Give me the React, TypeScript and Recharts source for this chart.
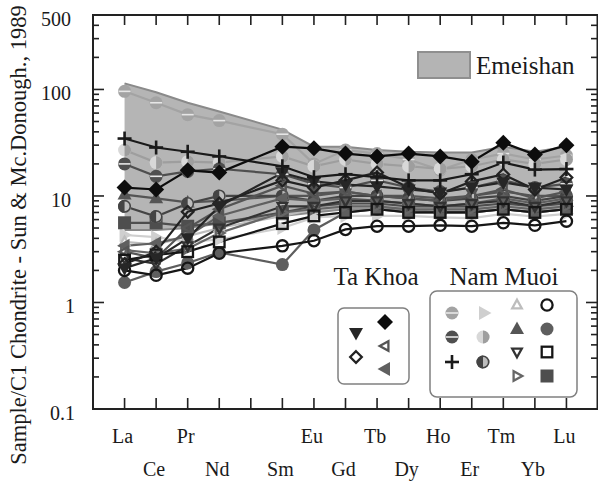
import React from "react";
import { ComposedChart, Line, Area, XAxis, YAxis, Customized } from "recharts";

const elements = ["La", "Ce", "Pr", "Nd", "Sm", "Eu", "Gd", "Tb", "Dy", "Ho", "Er", "Tm", "Yb", "Lu"];
// slot of each element on the x axis (Pm = 5 is left empty)
const slots = [1, 2, 3, 4, 6, 7, 8, 9, 10, 11, 12, 13, 14, 15];
const xTicks = [1, 2, 3, 4, 5, 6, 7, 8, 9, 10, 11, 12, 13, 14, 15];
const slotLabels = ["La", "Ce", "Pr", "Nd", "", "Sm", "Eu", "Gd", "Tb", "Dy", "Ho", "Er", "Tm", "Yb", "Lu"];
const lowerRow = ["Ce", "Nd", "Sm", "Gd", "Dy", "Er", "Yb"];
const yTicks = [0.1, 0.2, 0.3, 0.4, 0.5, 0.6, 0.7, 0.8, 0.9, 1, 2, 3, 4, 5, 6, 7, 8, 9, 10, 20, 30, 40, 50, 60, 70, 80, 90, 100, 200, 300, 400, 500];
const yMajor = [0.1, 1, 10, 100, 500];

const emeishanLow = [4.8, 4.8, 5, 5.5, 6.5, 7, 7.5, 7.5, 7.5, 7, 7, 7.5, 7, 7.5];
const emeishanHigh = [114, 94, 75, 62, 42, 29, 29, 27, 26, 25.6, 25.6, 29, 26, 29];

// Ta Khoa
const tkDownTri = [2.1, 2.6, 4.0, 8.0, 16.5, 13.7, 12.8, 12.3, 11.5, 10.8, 12, 13.4, 12, 11.5];
const tkDiamond = [12, 11.5, 17.4, 16.6, 29, 28, 25, 23.5, 25, 23.5, 21, 31.6, 24.5, 30];
const tkDiamondOpen = [2.3, 3.0, 7.1, 8.5, 14, 12, 14, 16.6, 12, 10.5, 13.7, 15.9, 11.5, 14.9];
const tkLeftOpen = [3.0, 2.6, 5.0, 7.5, 12.5, 10.5, 11, 10, 9.5, 9, 10, 11.5, 9.5, 11];
const tkLeftTri = [3.4, 3.6, 4.2, 6.5, 9.5, 9, 9.5, 9, 8.5, 8, 8.5, 9.5, 8.5, 9.5];

// Nam Muoi
const nmHalfLight = [96, 75, 58, 51, 38, 20, 27, 25, 22, 17.5, 22, 25, 22, 24];
const nmHalfDark = [20, 15.3, 17, 18, 16, 13, 12, 14, 12, 11, 12, 14, 12, 13];
const nmPlus = [34.6, 28.5, 26, 23.5, 19, 15, 16, 15, 14, 14, 16, 20.6, 17.7, 17.9];
const nmRightLight = [4.3, 4.1, 3.7, 3.9, 5.0, 6.3, 6.5, 6.5, 6.5, 6.3, 6.2, 6.8, 6.4, 6.8];
const nmSplitLight = [27, 20.6, 21, 20.6, 23.5, 19, 22, 20, 19, 18, 19, 22, 20, 22];
const nmSplitDark = [8, 6.4, 8.5, 10, 10, 9, 10, 10, 9.5, 9, 9.5, 10, 9, 10];
const nmUpOpen = [3.7, 3.5, 4.2, 5, 6.5, 7.5, 8, 8.5, 8, 8, 8, 8.5, 8, 8.5];
const nmUpTri = [10.3, 9.5, 8.7, 9, 10, 10, 11, 10, 10, 9.5, 10, 11, 10, 10];
const nmDownOpen = [2.6, 2.3, 3.4, 5, 8, 8, 9, 9, 8.5, 8, 8.5, 9, 8, 9];
const nmRightOpen = [3.1, 2.9, 3.2, 4.5, 7, 7.5, 8, 8, 7.5, 7.5, 7.5, 8, 7.5, 8];
const nmCircleOpen = [2.0, 1.8, 2.1, 2.9, 3.4, 3.8, 4.85, 5.2, 5.2, 5.3, 5.2, 5.6, 5.3, 5.8];
const nmCircle = [1.54, 1.95, 2.35, 2.95, 2.27, 4.8, 7, 7.5, 7, 7, 7, 7.5, 7, 7.5];
const nmSquareOpen = [2.5, 2.8, 3.0, 3.7, 5.5, 6.5, 7, 7.5, 7, 7, 7, 7.5, 7, 7.5];
const nmSquare = [5.6, 5.6, 5.2, 5.6, 7, 8, 8.5, 8.5, 8, 8, 8, 8.5, 8, 8.5];

const series = [
  { key: "nmRightLight", values: nmRightLight, shape: "rightFill", color: "#cfcfcf" },
  { key: "nmUpOpen", values: nmUpOpen, shape: "upOpen", color: "#bdbdbd" },
  { key: "nmHalfLight", values: nmHalfLight, shape: "halfH", color: "#a3a3a3" },
  { key: "nmSplitLight", values: nmSplitLight, shape: "halfVL", color: "#9e9e9e" },
  { key: "nmCircle", values: nmCircle, shape: "circleFill", color: "#5e5e5e" },
  { key: "nmSquare", values: nmSquare, shape: "squareFill", color: "#4e4e4e" },
  { key: "nmUpTri", values: nmUpTri, shape: "upFill", color: "#555555" },
  { key: "nmRightOpen", values: nmRightOpen, shape: "rightOpen", color: "#666666" },
  { key: "nmSplitDark", values: nmSplitDark, shape: "halfVD", color: "#444444" },
  { key: "nmHalfDark", values: nmHalfDark, shape: "halfH", color: "#4f4f4f" },
  { key: "tkLeftTri", values: tkLeftTri, shape: "leftFill", color: "#606060" },
  { key: "tkLeftOpen", values: tkLeftOpen, shape: "leftOpen", color: "#555555" },
  { key: "nmDownOpen", values: nmDownOpen, shape: "downOpen", color: "#333333" },
  { key: "nmSquareOpen", values: nmSquareOpen, shape: "squareOpen", color: "#161616" },
  { key: "nmCircleOpen", values: nmCircleOpen, shape: "circleOpen", color: "#161616" },
  { key: "tkDiamondOpen", values: tkDiamondOpen, shape: "diamondOpen", color: "#222222" },
  { key: "tkDownTri", values: tkDownTri, shape: "downFill", color: "#262626" },
  { key: "nmPlus", values: nmPlus, shape: "plus", color: "#1a1a1a" },
  { key: "tkDiamond", values: tkDiamond, shape: "diamondFill", color: "#0d0d0d" },
];

const data = elements.map((el, i) => {
  const row: any = { el, x: slots[i], emei: [emeishanLow[i], emeishanHigh[i]] };
  series.forEach((s) => (row[s.key] = s.values[i]));
  return row;
});

const W = 598;
const H = 483;
const M_TOP = 15;
const Y_W = 93;
const X_H = 74;
const PLOT_W = W - Y_W;
const PLOT_H = H - M_TOP - X_H;
const X_DOMAIN = [0, 16];
const Y_DOMAIN = [0.1, 500];

const FONT = "'Liberation Serif', 'Times New Roman', 'DejaVu Serif', serif";
const AXIS = "#222";

const Marker = ({ cx, cy, shape, color }: any) => {
  if (cx == null || cy == null) return null;
  const t = `translate(${cx},${cy})`;
  switch (shape) {
    case "circleOpen":
      return <circle cx={cx} cy={cy} r={5.6} fill="none" stroke={color} strokeWidth={2.3} />;
    case "circleFill":
      return <circle cx={cx} cy={cy} r={6.5} fill={color} />;
    case "halfH":
      return (
        <g transform={t}>
          <circle r={6.5} fill={color} />
          <rect x={-6} y={-0.8} width={12} height={1.6} fill="#e6e6e6" />
        </g>
      );
    case "halfVL":
      return (
        <g transform={t}>
          <circle r={6.5} fill="#d8d8d8" />
          <path d="M0,-6.5 A6.5,6.5 0 0 1 0,6.5 Z" fill={color} />
        </g>
      );
    case "halfVD":
      return (
        <g transform={t}>
          <circle r={6.5} fill="#bdbdbd" />
          <path d="M0,-6.5 A6.5,6.5 0 0 0 0,6.5 Z" fill={color} />
          <circle r={5.7} fill="none" stroke={color} strokeWidth={1.6} />
        </g>
      );
    case "plus":
      return (
        <g transform={t} fill={color}>
          <rect x={-7} y={-1.3} width={14} height={2.6} />
          <rect x={-1.3} y={-7} width={2.6} height={14} />
        </g>
      );
    case "diamondFill":
    case "diamondOpen": {
      const open = shape === "diamondOpen";
      return (
        <polygon
          transform={t}
          points={open ? "0,-5.8 5.8,0 0,5.8 -5.8,0" : "0,-8 8,0 0,8 -8,0"}
          fill={open ? "none" : color}
          stroke={color}
          strokeWidth={open ? 2.3 : 0}
        />
      );
    }
    case "squareFill":
      return <rect x={cx - 6.5} y={cy - 6.5} width={13} height={13} fill={color} />;
    case "squareOpen":
      return <rect x={cx - 5.3} y={cy - 5.3} width={10.6} height={10.6} fill="none" stroke={color} strokeWidth={2.3} />;
    default: {
      const open = shape.endsWith("Open");
      const dir = shape.replace("Open", "").replace("Fill", "");
      const pts: any = {
        up: "0,-7.5 7,5 -7,5",
        down: "0,7.5 7,-5 -7,-5",
        left: "-7.5,0 5,-7 5,7",
        right: "7.5,0 -5,-7 -5,7",
      };
      const small: any = {
        up: "0,-5.3 4.8,3.4 -4.8,3.4",
        down: "0,5.3 4.8,-3.4 -4.8,-3.4",
        left: "-5.3,0 3.4,-4.8 3.4,4.8",
        right: "5.3,0 -3.4,-4.8 -3.4,4.8",
      };
      return (
        <polygon
          transform={t}
          points={open ? small[dir] : pts[dir]}
          fill={open ? "none" : color}
          stroke={color}
          strokeWidth={open ? 2.3 : 0}
        />
      );
    }
  }
};

const isMajor = (v: number) => yMajor.includes(v);

const LeftTick = ({ x, y, payload }: any) => {
  const v = payload.value;
  if (!isMajor(v)) return <g />;
  return (
    <text x={x - (v >= 10 ? 22 : 18)} y={y + 4} dy="0.35em" textAnchor="end" fontSize={20} fontFamily={FONT} fill="#1a1a1a">
      {String(v)}
    </text>
  );
};

const BottomTick = ({ x, y, payload }: any) => {
  const label = slotLabels[payload.value - 1];
  if (!label) return <g />;
  const second = lowerRow.includes(label);
  return (
    <text x={x - 2} y={y + (second ? 67 : 34)} textAnchor="middle" fontSize={20} fontFamily={FONT} fill="#1a1a1a">
      {label}
    </text>
  );
};

// same mapping as the chart's axes (linear x, log y), used for the inward frame ticks
const xPix = (s: number) => Y_W + (PLOT_W * (s - X_DOMAIN[0])) / (X_DOMAIN[1] - X_DOMAIN[0]);
const yPix = (v: number) =>
  M_TOP + (PLOT_H * (Math.log10(Y_DOMAIN[1]) - Math.log10(v))) / (Math.log10(Y_DOMAIN[1]) - Math.log10(Y_DOMAIN[0]));

// frame and inward ticks, as thin filled rectangles
const Frame = () => {
  const left = Y_W;
  const right = W;
  const top = M_TOP;
  const bottom = M_TOP + PLOT_H;
  const t = 1.6;
  return (
    <g fill={AXIS}>
      <rect x={left - 1} y={top - 1} width={right - left + 1} height={2} />
      <rect x={right - 1.5} y={top - 1} width={2} height={bottom - top + 2} />
      <rect x={left - 1} y={top - 1} width={2} height={bottom - top + 2} />
      <rect x={left - 1} y={bottom - 1} width={right - left + 1} height={2} />
      {yTicks
        .filter((v) => v !== 500 && v !== 0.1)
        .map((v) => {
          const len = isMajor(v) ? 11 : 6;
          const y = yPix(v);
          return (
            <g key={`y${v}`}>
              <rect x={left} y={y - t / 2} width={len} height={t} />
              <rect x={right - len - 1} y={y - t / 2} width={len + 1} height={t} />
            </g>
          );
        })}
      {xTicks.map((s) => {
        const x = xPix(s);
        return (
          <g key={`x${s}`}>
            <rect x={x - t / 2} y={bottom - 11} width={t} height={11} />
            <rect x={x - t / 2} y={top} width={t} height={10} />
          </g>
        );
      })}
    </g>
  );
};

const tkLegend = [
  { shape: "downFill", color: "#262626", x: 356, y: 333 },
  { shape: "diamondFill", color: "#0d0d0d", x: 385, y: 322 },
  { shape: "diamondOpen", color: "#222222", x: 356, y: 357 },
  { shape: "leftOpen", color: "#555555", x: 385, y: 346 },
  { shape: "leftFill", color: "#606060", x: 385, y: 369 },
];
const nmLegend = [
  { shape: "halfH", color: "#a3a3a3", x: 452, y: 313 },
  { shape: "halfH", color: "#4f4f4f", x: 452, y: 337 },
  { shape: "plus", color: "#1a1a1a", x: 452, y: 362 },
  { shape: "rightFill", color: "#cfcfcf", x: 484, y: 313 },
  { shape: "halfVL", color: "#9e9e9e", x: 483, y: 337 },
  { shape: "halfVD", color: "#444444", x: 483, y: 362 },
  { shape: "upOpen", color: "#bdbdbd", x: 517, y: 305 },
  { shape: "upFill", color: "#555555", x: 517, y: 329 },
  { shape: "downOpen", color: "#333333", x: 517, y: 352 },
  { shape: "rightOpen", color: "#666666", x: 517, y: 376 },
  { shape: "circleOpen", color: "#161616", x: 547, y: 305 },
  { shape: "circleFill", color: "#5e5e5e", x: 547, y: 329 },
  { shape: "squareOpen", color: "#161616", x: 547, y: 352 },
  { shape: "squareFill", color: "#4e4e4e", x: 547, y: 376 },
];

const Decorations = () => (
  <g fontFamily={FONT} fill="#1a1a1a">
    <text x={26} y={235} transform="rotate(-90, 26, 235)" textAnchor="middle" fontSize={22.5}>
      Sample/C1 Chondrite - Sun &amp; Mc.Donough., 1989
    </text>
    <rect x={418} y={52} width={52} height={26} fill="#b4b4b4" stroke="#8f8f8f" strokeWidth={2} />
    <text x={476} y={74} fontSize={25}>Emeishan</text>
    <text x={376} y={285} fontSize={25} textAnchor="middle">Ta Khoa</text>
    <text x={504} y={285} fontSize={25} textAnchor="middle">Nam Muoi</text>
    <rect x={338} y={308} width={71} height={76} rx={6} fill="#fff" stroke="#808080" strokeWidth={1.5} />
    <rect x={430} y={291} width={147} height={106} rx={7} fill="#fff" stroke="#808080" strokeWidth={1.5} />
    {tkLegend.concat(nmLegend).map((m, i) => (
      <Marker key={i} cx={m.x} cy={m.y} shape={m.shape} color={m.color} />
    ))}
  </g>
);

export default function App() {
  return (
    <div style={{ position: "absolute", left: 0, top: 0, width: W, height: H, background: "#fff" }}>
      <ComposedChart width={W} height={H} data={data} margin={{ top: M_TOP, right: 0, bottom: 0, left: 0 }}>
        <XAxis
          dataKey="x"
          type="number"
          domain={X_DOMAIN}
          ticks={xTicks}
          interval={0}
          allowDataOverflow
          height={X_H}
          tickSize={0}
          tickMargin={0}
          tickLine={false}
          tick={<BottomTick />}
          axisLine={false}
        />
        <YAxis
          type="number"
          scale="log"
          domain={Y_DOMAIN}
          ticks={yTicks}
          interval={0}
          allowDataOverflow
          width={Y_W}
          tickSize={0}
          tickMargin={0}
          tickLine={false}
          tick={<LeftTick />}
          axisLine={false}
        />
        <Area
          dataKey="emei"
          type="linear"
          fill="#b5b5b5"
          fillOpacity={1}
          stroke="#8a8a8a"
          strokeWidth={2}
          isAnimationActive={false}
          activeDot={false}
          dot={false}
        />
        {series.map((s) => (
          <Line
            key={s.key}
            dataKey={s.key}
            type="linear"
            stroke={s.color}
            strokeWidth={2.2}
            isAnimationActive={false}
            activeDot={false}
            dot={(p: any) => <Marker key={`${s.key}-${p.index}`} cx={p.cx} cy={p.cy} shape={s.shape} color={s.color} />}
          />
        ))}
        <Customized component={Decorations} />
      </ComposedChart>
      {/* frame overlay in its own svg, stacked above the chart */}
      <svg
        width={W}
        height={H}
        style={{ position: "absolute", left: 0, top: 0, pointerEvents: "none", zIndex: 5 }}
      >
        <Frame />
      </svg>
    </div>
  );
}
